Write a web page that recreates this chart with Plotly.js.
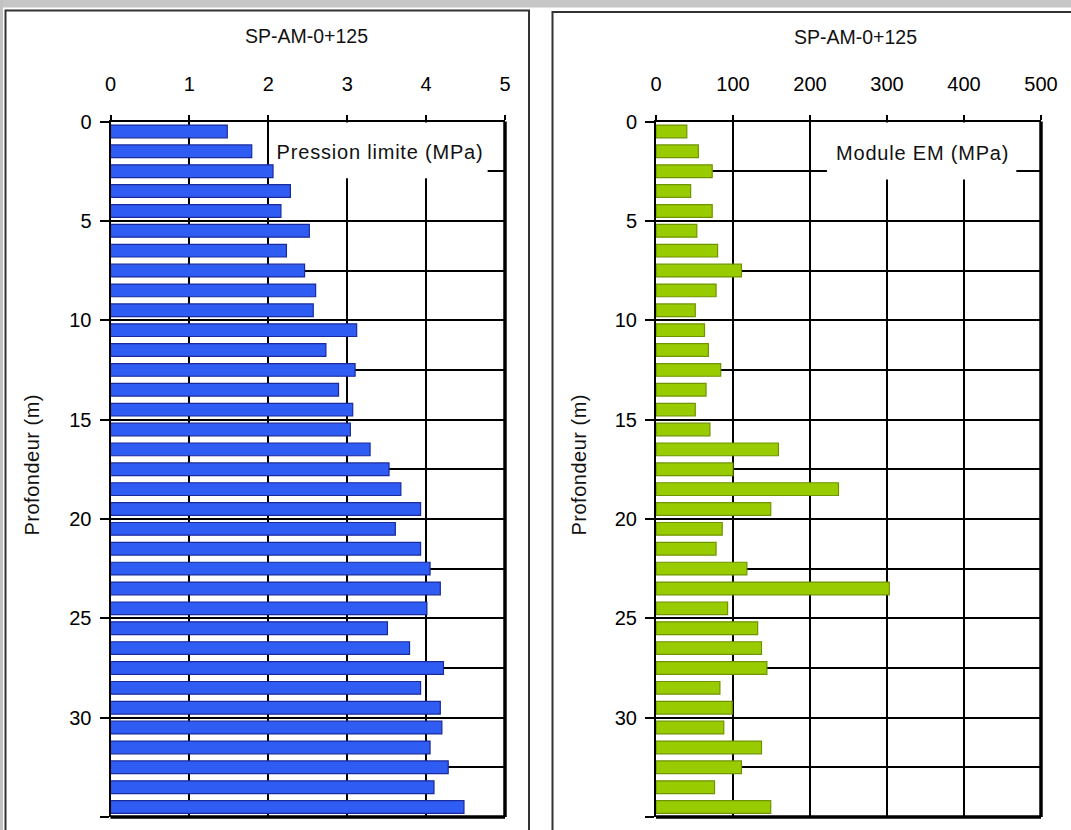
<!DOCTYPE html>
<html>
<head>
<meta charset="utf-8">
<script src="https://cdn.plot.ly/plotly-3.0.1.min.js"></script>
<style>
  html, body { margin: 0; padding: 0; background: #ffffff; }
  #chart { width: 1071px; height: 830px; }
  g.annotation[data-index="2"] text, g.annotation[data-index="3"] text { letter-spacing: 0.8px; }
  g.annotation[data-index="4"] text, g.annotation[data-index="5"] text { letter-spacing: 0.5px; }
</style>
</head>
<body>
<div id="chart"></div>
<script>
// ---- data ----
const chartTitle = "SP-AM-0+125";
const depths = [0.5, 1.5, 2.5, 3.5, 4.5, 5.5, 6.5, 7.5, 8.5, 9.5,
                10.5, 11.5, 12.5, 13.5, 14.5, 15.5, 16.5, 17.5, 18.5, 19.5,
                20.5, 21.5, 22.5, 23.5, 24.5, 25.5, 26.5, 27.5, 28.5, 29.5,
                30.5, 31.5, 32.5, 33.5, 34.5];
const pressionLimite = [1.48, 1.79, 2.06, 2.28, 2.16, 2.52, 2.23, 2.46, 2.60, 2.57,
                        3.12, 2.73, 3.10, 2.89, 3.07, 3.04, 3.29, 3.53, 3.68, 3.93,
                        3.61, 3.93, 4.05, 4.18, 4.01, 3.51, 3.79, 4.22, 3.93, 4.18,
                        4.20, 4.05, 4.28, 4.10, 4.48];
const moduleEM = [40, 55, 73, 45, 73, 53, 80, 111, 78, 51,
                  63, 68, 84, 65, 51, 70, 159, 100, 237, 149,
                  86, 78, 118, 303, 93, 132, 137, 144, 83, 99,
                  88, 137, 111, 76, 149];
const depthTickVals = [0, 5, 10, 15, 20, 25, 30, 35];
const depthTickText = ["0", "5", "10", "15", "20", "25", "30", ""];
const plTickVals = [0, 1, 2, 3, 4, 5];
const emTickVals = [0, 100, 200, 300, 400, 500];
const plLabel = "Pression limite (MPa)";
const emLabel = "Module EM (MPa)";
const depthLabel = "Profondeur (m)";

// ---- geometry helpers ----
const W = 1071, H = 830;
const px = v => v / W;
const py = v => 1 - v / H;
const FONT = "Liberation Sans, Arial, sans-serif";
const yDom = [py(817), py(121.5)];

const traces = [
  {
    type: "bar", orientation: "h", x: pressionLimite, y: depths,
    xaxis: "x", yaxis: "y", width: 0.64,
    marker: { color: "#2f5cf2", line: { color: "#1a2a9c", width: 1.2 } },
    hoverinfo: "x+y", showlegend: false
  },
  {
    type: "bar", orientation: "h", x: moduleEM, y: depths,
    xaxis: "x2", yaxis: "y2", width: 0.64,
    marker: { color: "#99cc00", line: { color: "#6f9400", width: 1.2 } },
    hoverinfo: "x+y", showlegend: false
  }
];

function xAxis(dom, range, vals, anchor) {
  return {
    domain: dom, range: range, side: "top", anchor: anchor,
    tickmode: "array", tickvals: vals, ticktext: vals.map(String),
    ticks: "outside", ticklen: 5, tickwidth: 2, tickcolor: "#000",
    ticklabelstandoff: 16,
    showline: true, linecolor: "#000", linewidth: 2,
    showgrid: true, gridcolor: "#000", gridwidth: 2,
    zeroline: false, fixedrange: true,
    tickfont: { family: FONT, size: 20, color: "#000" }
  };
}
function yAxis(anchor) {
  return {
    domain: yDom, range: [35, 0], anchor: anchor,
    tickmode: "array", tickvals: depthTickVals, ticktext: depthTickText,
    ticks: "outside", ticklen: 9, tickwidth: 2, tickcolor: "#000",
    ticklabelstandoff: 4,
    showline: true, linecolor: "#000", linewidth: 2,
    showgrid: true, gridcolor: "#000", gridwidth: 2,
    minor: { tickmode: "linear", tick0: 0, dtick: 2.5, showgrid: true,
             gridcolor: "#000", gridwidth: 2, ticks: "" },
    zeroline: false, fixedrange: true,
    tickfont: { family: FONT, size: 20, color: "#000" }
  };
}

const shapes = [
  // window header band and left strip
  { type: "rect", xref: "paper", yref: "paper", x0: 0, x1: 1, y0: py(7.5), y1: 1,
    fillcolor: "#c6c6c6", line: { width: 0 }, layer: "below" },
  { type: "rect", xref: "paper", yref: "paper", x0: 0, x1: px(3), y0: 0, y1: 1,
    fillcolor: "#c2c2c2", line: { width: 0 }, layer: "below" },
  // panel frames
  { type: "rect", xref: "paper", yref: "paper", x0: px(5.5), x1: px(529), y0: py(835), y1: py(10.5),
    fillcolor: "rgba(0,0,0,0)", line: { color: "#333", width: 2 }, layer: "below" },
  { type: "rect", xref: "paper", yref: "paper", x0: px(552.5), x1: px(1080), y0: py(835), y1: py(12),
    fillcolor: "rgba(0,0,0,0)", line: { color: "#333", width: 2 }, layer: "below" },
  // white label boxes over grid, under bars
  { type: "rect", xref: "x", yref: "y", x0: 2.04, x1: 4.78, y0: 0.05, y1: 2.85,
    fillcolor: "#ffffff", line: { width: 0 }, layer: "between" },
  { type: "rect", xref: "x2", yref: "y2", x0: 222, x1: 468, y0: 0.05, y1: 2.92,
    fillcolor: "#ffffff", line: { width: 0 }, layer: "between" },
  // thick right and bottom plot borders
  { type: "line", xref: "x domain", yref: "y domain", x0: 1, x1: 1, y0: 0, y1: 1,
    line: { color: "#000", width: 3.5 }, layer: "above" },
  { type: "line", xref: "x domain", yref: "y domain", x0: 0, x1: 1, y0: 0, y1: 0,
    line: { color: "#000", width: 3.5 }, layer: "above" },
  { type: "line", xref: "x2 domain", yref: "y2 domain", x0: 1, x1: 1, y0: 0, y1: 1,
    line: { color: "#000", width: 3.5 }, layer: "above" },
  { type: "line", xref: "x2 domain", yref: "y2 domain", x0: 0, x1: 1, y0: 0, y1: 0,
    line: { color: "#000", width: 3.5 }, layer: "above" }
];

const annBase = { showarrow: false, xanchor: "center", yanchor: "middle" };
const annotations = [
  Object.assign({ text: chartTitle, xref: "paper", yref: "paper", x: px(306), y: py(36),
    font: { family: FONT, size: 19.5, color: "#111" } }, annBase),
  Object.assign({ text: chartTitle, xref: "paper", yref: "paper", x: px(855), y: py(37),
    font: { family: FONT, size: 19.5, color: "#111" } }, annBase),
  Object.assign({ text: plLabel, xref: "x", yref: "y", x: 3.42, y: 1.55,
    font: { family: FONT, size: 20, color: "#111" } }, annBase),
  Object.assign({ text: emLabel, xref: "x2", yref: "y2", x: 346, y: 1.6,
    font: { family: FONT, size: 20, color: "#111" } }, annBase),
  Object.assign({ text: depthLabel, xref: "paper", yref: "paper", x: px(32), y: py(465),
    textangle: -90, font: { family: FONT, size: 20, color: "#111" } }, annBase),
  Object.assign({ text: depthLabel, xref: "paper", yref: "paper", x: px(579), y: py(465),
    textangle: -90, font: { family: FONT, size: 20, color: "#111" } }, annBase)
];

const layout = {
  width: W, height: H,
  margin: { l: 0, r: 0, t: 0, b: 0, pad: 0 },
  paper_bgcolor: "#ffffff", plot_bgcolor: "#ffffff",
  bargap: 0.3,
  showlegend: false,
  xaxis: xAxis([px(110.5), px(505)], [0, 5], plTickVals, "y"),
  yaxis: yAxis("x"),
  xaxis2: xAxis([px(656), px(1041)], [0, 500], emTickVals, "y2"),
  yaxis2: yAxis("x2"),
  shapes: shapes,
  annotations: annotations
};

Plotly.newPlot("chart", traces, layout, { staticPlot: true, displayModeBar: false });
</script>
</body>
</html>
